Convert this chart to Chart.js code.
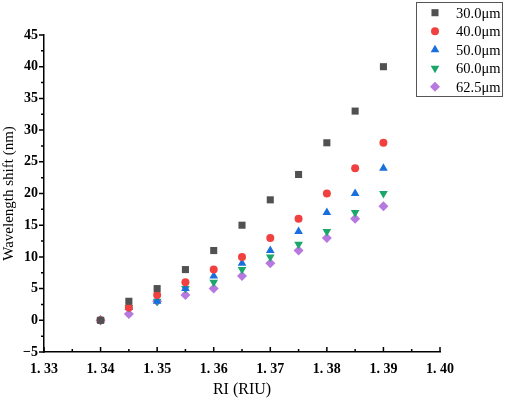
<!DOCTYPE html>
<html>
<head>
<meta charset="utf-8">
<script src="https://cdn.jsdelivr.net/npm/chart.js@4/dist/chart.umd.min.js"></script>
<style>
	html, body { margin: 0; padding: 0; background: #fff; }
	#wrap { width: 505px; height: 399px; }
</style>
</head>
<body>
<div id="wrap"><canvas id="chart" width="505" height="399"></canvas></div>
<script>
// refractive index values (x axis)
var ri = [1.340, 1.345, 1.350, 1.355, 1.360, 1.365, 1.370, 1.375, 1.380, 1.385, 1.390];

// wavelength shift (nm) per fibre diameter
var seriesLabels = ['30.0\u03bcm', '40.0\u03bcm', '50.0\u03bcm', '60.0\u03bcm', '62.5\u03bcm'];
var shift30 = [0, 3, 5, 8, 11, 15, 19, 23, 28, 33, 40];
var shift40 = [0, 2, 4, 6, 8, 10, 13, 16, 20, 24, 28];
var shift50 = [0, 2, 3, 5, 7, 9, 11, 14, 17, 20, 24];
var shift60 = [0, 2, 3, 5, 6, 8, 10, 12, 14, 17, 20];
var shift625 = [0, 1, 3, 4, 5, 7, 9, 11, 13, 16, 18];

var xTickLabels = ['1. 33', '1. 34', '1. 35', '1. 36', '1. 37', '1. 38', '1. 39', '1. 40'];

var serif = "'Liberation Serif', 'DejaVu Serif', serif";

function toPoints(ys) {
	return ri.map(function(x, i) { return {x: x, y: ys[i]}; });
}

function makeSet(label, ys, color, style, radius, rotation) {
	return {
		label: label,
		data: toPoints(ys),
		borderColor: color,
		backgroundColor: color,
		pointStyle: style,
		pointRadius: radius,
		pointRotation: rotation || 0,
		pointBorderWidth: 0,
		showLine: false,
	};
}

var data = {
	datasets: [
		makeSet(seriesLabels[0], shift30, '#515151', 'rect', 5),
		makeSet(seriesLabels[1], shift40, '#F14040', 'circle', 4),
		makeSet(seriesLabels[2], shift50, '#1A6FDF', 'triangle', 5),
		makeSet(seriesLabels[3], shift60, '#1BA76A', 'triangle', 5, 180),
		makeSet(seriesLabels[4], shift625, '#B779E0', 'rectRot', 5),
	]
};

// tick marks: x ticks point into the plot, y ticks point out, with minor ticks in between
const axisTicks = {
	id: 'axisTicks',
	afterDraw(chart) {
		const ctx = chart.ctx;
		const xs = chart.scales.x, ys = chart.scales.y;
		ctx.save();
		ctx.strokeStyle = '#000';
		ctx.lineWidth = 1.5;
		ctx.beginPath();
		for (var i = 0; i <= 14; i++) {
			var px = xs.getPixelForValue(1.33 + i * 0.005);
			var len = (i % 2 == 0) ? 5 : 3;
			ctx.moveTo(px, xs.top);
			ctx.lineTo(px, xs.top - len);
		}
		for (var j = 0; j <= 20; j++) {
			var py = ys.getPixelForValue(-5 + j * 2.5);
			var len2 = (j % 2 == 0) ? 5 : 3;
			ctx.moveTo(ys.right, py);
			ctx.lineTo(ys.right - len2, py);
		}
		ctx.stroke();
		ctx.restore();
	}
};

// boxed legend in the top right corner
const boxLegend = {
	id: 'boxLegend',
	afterDraw(chart) {
		const ctx = chart.ctx;
		ctx.save();
		ctx.strokeStyle = '#555';
		ctx.lineWidth = 1;
		ctx.strokeRect(416.5, 2.5, 86, 94);
		ctx.font = '14.5px ' + serif;
		ctx.textBaseline = 'middle';
		ctx.textAlign = 'left';
		chart.data.datasets.forEach(function(ds, i) {
			var y = 12.7 + i * 18.5;
			ctx.fillStyle = ds.backgroundColor;
			ctx.strokeStyle = ds.borderColor;
			Chart.helpers.drawPoint(ctx, {
				pointStyle: ds.pointStyle,
				radius: ds.pointRadius,
				rotation: ds.pointRotation,
				borderWidth: 0
			}, 435, y);
			ctx.fillStyle = '#000';
			ctx.fillText(ds.label, 456, y + 1);
		});
		ctx.restore();
	}
};

var chart = new Chart(document.getElementById('chart'), {
	type: 'scatter',
	data: data,
	options: {
		responsive: false,
		animation: false,
		layout: {
			padding: {left: 0, right: 65, top: 35, bottom: 0}
		},
		scales: {
			x: {
				type: 'linear',
				min: 1.33, max: 1.40,
				afterFit: function(scale) { scale.height = 47; },
				afterBuildTicks: function(scale) {
					scale.ticks = xTickLabels.map(function(t, i) { return {value: 1.33 + i * 0.01}; });
				},
				ticks: {
					color: '#000',
					padding: 9,
					font: {family: serif, size: 14, weight: 'bold'},
					callback: function(v, i) { return xTickLabels[i]; },
				},
				grid: {display: false, drawTicks: false},
				border: {display: true, color: '#000', width: 1.5},
				title: {
					display: true,
					text: 'RI (RIU)',
					color: '#000',
					font: {family: serif, size: 16},
					padding: {top: 1.5, bottom: 0},
				},
			},
			y: {
				type: 'linear',
				min: -5, max: 45,
				afterFit: function(scale) { scale.width = 44; },
				ticks: {
					stepSize: 5,
					color: '#000',
					padding: 6,
					font: {family: serif, size: 14, weight: 'bold'},
					callback: function(v) { return v < 0 ? '\u2212' + Math.abs(v) : v; },
				},
				grid: {display: false, drawTicks: false},
				border: {display: true, color: '#000', width: 1.5},
				title: {
					display: true,
					text: 'Wavelength shift (nm)',
					color: '#000',
					font: {family: serif, size: 15},
					padding: {top: 0.5, bottom: 0},
				},
			},
		},
		plugins: {
			legend: {display: false},
			tooltip: {enabled: false},
		},
	},
	plugins: [axisTicks, boxLegend],
});
</script>
</body>
</html>
